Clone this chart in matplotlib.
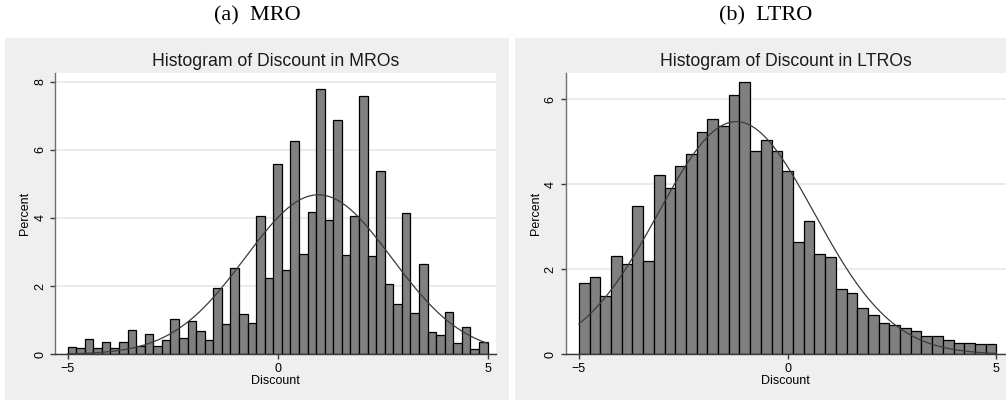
import numpy as np
import matplotlib
matplotlib.use("Agg")
import matplotlib.pyplot as plt
from matplotlib.patches import Rectangle

# ---- data: percent of observations per bin, bins evenly spaced on [-5, 5] ----
bin_range = (-5.0, 5.0)

mro_percent = [0.21, 0.19, 0.44, 0.19, 0.35, 0.19, 0.35, 0.70, 0.25, 0.61,
               0.23, 0.42, 1.05, 0.47, 0.98, 0.67, 0.43, 1.94, 0.90, 2.52,
               1.19, 0.91, 4.06, 2.23, 5.58, 2.46, 6.27, 2.93, 4.16, 7.79,
               3.93, 6.86, 2.91, 4.05, 7.59, 2.89, 5.38, 2.05, 1.47, 4.15,
               1.22, 2.64, 0.64, 0.57, 1.23, 0.32, 0.79, 0.16, 0.35]

ltro_percent = [1.68, 1.81, 1.36, 2.32, 2.12, 3.48, 2.20, 4.21, 3.92, 4.43,
                4.70, 5.22, 5.52, 5.37, 6.09, 6.41, 4.79, 5.04, 4.79, 4.32,
                2.65, 3.14, 2.35, 2.29, 1.53, 1.43, 1.10, 0.92, 0.73, 0.68,
                0.61, 0.54, 0.44, 0.44, 0.33, 0.27, 0.26, 0.24, 0.24]

# fitted normal overlays (mean, sd)
mro_mean, mro_sd = 0.97, 1.74
ltro_mean, ltro_sd = -1.23, 1.87

x_ticks = [-5, 0, 5]
mro_y_ticks = [0, 2, 4, 6, 8]
ltro_y_ticks = [0, 2, 4, 6]

panels = [
    dict(sub="(a)  MRO", title="Histogram of Discount in MROs",
         pct=mro_percent, mean=mro_mean, sd=mro_sd, yticks=mro_y_ticks,
         ylim=8.26, xlim=(-5.30, 5.20),
         ax_px=(55, 496), box_px=(5, 509), sub_x=257),
    dict(sub="(b)  LTRO", title="Histogram of Discount in LTROs",
         pct=ltro_percent, mean=ltro_mean, sd=ltro_sd, yticks=ltro_y_ticks,
         ylim=6.62, xlim=(-5.32, 5.23),
         ax_px=(565.5, 1006), box_px=(515, 1006), sub_x=766),
]

W, H = 1006, 403
fig = plt.figure(figsize=(W / 100, H / 100), dpi=100)
fig.patch.set_facecolor("white")

def fx(px):
    return px / W

def fy(py):
    return 1 - py / H

sans = "Liberation Sans"
serif = "Liberation Serif"
plot_top, plot_bot = 72.7, 354.3
panel_top, panel_bot = 38, 400

for p in panels:
    # graph region background
    bx0, bx1 = p["box_px"]
    fig.add_artist(Rectangle((fx(bx0), fy(panel_bot)), fx(bx1 - bx0),
                             (panel_bot - panel_top) / H,
                             transform=fig.transFigure, facecolor="#efefef",
                             edgecolor="none", zorder=-5))

    ax0, ax1 = p["ax_px"]
    ax = fig.add_axes([fx(ax0), fy(plot_bot), fx(ax1 - ax0),
                       (plot_bot - plot_top) / H])
    ax.set_facecolor("white")

    n = len(p["pct"])
    edges = np.linspace(bin_range[0], bin_range[1], n + 1)
    width = edges[1] - edges[0]
    ax.bar(edges[:-1], p["pct"], width=width, align="edge",
           color="#808080", edgecolor="black", linewidth=0.9, zorder=2)

    xs = np.linspace(bin_range[0], bin_range[1], 400)
    dens = np.exp(-0.5 * ((xs - p["mean"]) / p["sd"]) ** 2) / (p["sd"] * np.sqrt(2 * np.pi))
    ax.plot(xs, 100 * width * dens, color="#3c3c3c", linewidth=0.9, zorder=3)

    ax.set_xlim(*p["xlim"])
    ax.set_ylim(0, p["ylim"])
    ax.set_xticks(x_ticks)
    ax.set_yticks(p["yticks"])
    ax.yaxis.grid(True, color="#e6e6e6", linewidth=1.1, zorder=0)
    ax.set_axisbelow(True)

    for s in ("top", "right"):
        ax.spines[s].set_visible(False)
    ax.spines["left"].set_color("#6e6e6e")
    ax.spines["bottom"].set_color("#3a3a3a")
    ax.spines["left"].set_linewidth(1.0)
    ax.spines["bottom"].set_linewidth(1.0)

    ax.tick_params(axis="both", direction="out", length=3.8, width=1.0,
                   color="#3a3a3a", labelsize=9)
    ax.tick_params(axis="x", pad=2.5)
    ax.tick_params(axis="y", pad=2.5, labelrotation=90)
    for lbl in ax.get_yticklabels():
        lbl.set_verticalalignment("center")
        lbl.set_fontfamily(sans)
    for lbl in ax.get_xticklabels():
        lbl.set_fontfamily(sans)

    cx = (ax0 + ax1) / 2
    fig.text(fx(cx), fy(61), p["title"], ha="center", va="center",
             fontsize=12.7, family=sans, color="#1a1a1a")
    fig.text(fx(cx), fy(381), "Discount", ha="center", va="center",
             fontsize=9, family=sans)
    fig.text(fx(ax0 - 30), fy((plot_top + plot_bot) / 2), "Percent",
             ha="center", va="center", rotation=90, fontsize=9, family=sans)
    fig.text(fx(p["sub_x"]), fy(16), p["sub"], ha="center", va="center",
             fontsize=16, family=serif)

fig.savefig("out.png", dpi=100)
